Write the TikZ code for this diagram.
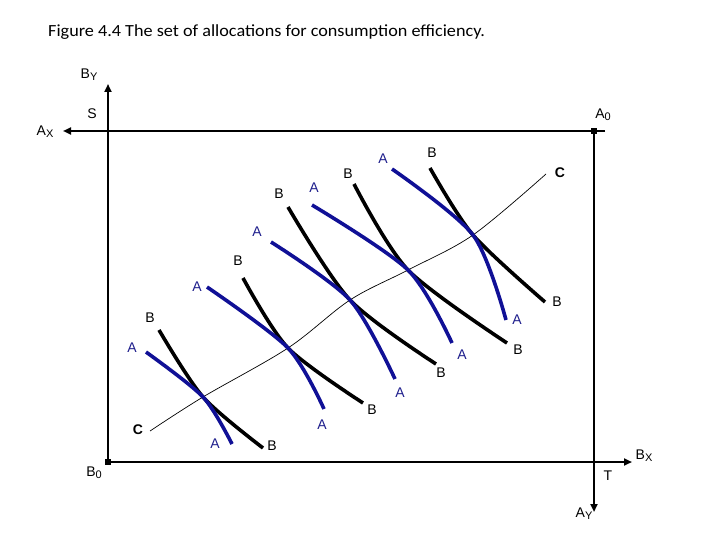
\documentclass[tikz,border=0pt]{standalone}
\usepackage{fontspec}
\setmainfont{Carlito}
\newfontfamily\labfont{Liberation Sans}
\usetikzlibrary{arrows.meta}
\definecolor{navy}{RGB}{16,16,150}
\definecolor{navytext}{RGB}{30,30,140}
\newcommand{\lsub}[1]{\raisebox{-0.3ex}{\fontsize{11}{12}\selectfont #1}}
\tikzset{
  axis/.style={line width=2.6pt},
  axarrow/.style={axis,-{Triangle[length=8pt,width=7pt]}},
  curveA/.style={line width=3.6pt,navy},
  curveB/.style={line width=3.6pt,black},
  curveC/.style={line width=0.7pt,black},
  labA/.style={font=\labfont\fontsize{14}{16}\selectfont,text=navytext,inner sep=0pt},
  labB/.style={font=\labfont\fontsize{14}{16}\selectfont,text=black,inner sep=0pt},
  labC/.style={font=\labfont\bfseries\fontsize{14}{16}\selectfont,inner sep=0pt},
  axlab/.style={font=\labfont\fontsize{14}{16}\selectfont,inner sep=0pt},
  dotsq/.style={fill=black,minimum size=6pt,inner sep=0pt,rectangle}
}
\begin{document}
\begin{tikzpicture}[x=1pt,y=-1pt]
\useasboundingbox (0,0) rectangle (720,540);
\node[anchor=west,inner sep=0pt,xscale=1.07,font=\fontsize{17}{20}\selectfont] (title) at (48,32) {Figure 4.4 The set of allocations for consumption efficiency.};
% origins and axis ends
\coordinate (B0) at (108,462);
\coordinate (A0) at (594,131);
\coordinate (ByEnd) at (108,84);
\coordinate (AxEnd) at (63,131);
\coordinate (BxEnd) at (632,462);
\coordinate (AyEnd) at (594,512);
\coordinate (TopEnd) at (605,131);
\draw[axarrow] (B0) -- (ByEnd);
\draw[axarrow] (B0) -- (BxEnd);
\draw[axarrow] (TopEnd) -- (AxEnd);
\draw[axarrow] (A0) -- (AyEnd);
\node[dotsq] (dA0) at (A0) {};
\node[dotsq] (dB0) at (B0) {};
% axis labels
\node[axlab] (lBy) at (89,75) {B\lsub{Y}};
\node[axlab] (lS) at (92,114) {S};
\node[axlab] (lAx) at (45,132) {A\lsub{X}};
\node[axlab] (lA0) at (603,115) {A\lsub{0}};
\node[axlab] (lB0) at (94,473) {B\lsub{0}};
\node[axlab] (lBx) at (644,456) {B\lsub{X}};
\node[axlab] (lT) at (608,476) {T};
\node[axlab] (lAy) at (584,514) {A\lsub{Y}};
% tangency points
\coordinate (m1) at (203,397);
\coordinate (m2) at (288,348);
\coordinate (m3) at (350,300);
\coordinate (m4) at (408,270);
\coordinate (m5) at (473,235);
% pair 1
\coordinate (a1s) at (146,352); \coordinate (a1e) at (232,444);
\coordinate (b1s) at (159,330); \coordinate (b1e) at (263,448);
% pair 2
\coordinate (a2s) at (207,287); \coordinate (a2e) at (324,409);
\coordinate (b2s) at (243,278); \coordinate (b2e) at (363,403);
% pair 3
\coordinate (a3s) at (271,242); \coordinate (a3e) at (395,379);
\coordinate (b3s) at (288,207); \coordinate (b3e) at (436,364);
% pair 4
\coordinate (a4s) at (312,205); \coordinate (a4e) at (452,343);
\coordinate (b4s) at (354,184); \coordinate (b4e) at (507,343);
% pair 5
\coordinate (a5s) at (392,169); \coordinate (a5e) at (506,320);
\coordinate (b5s) at (430,168); \coordinate (b5e) at (545,302);
% C curve
\coordinate (c1) at (150,431);
\coordinate (c2) at (546,174);
\draw[curveC] plot[smooth,tension=0.55] coordinates {(c1) (m1) (m2) (m3) (m4) (m5) (c2)};
\foreach \i in {1,...,5}{
  \draw[curveB] plot[smooth] coordinates {(b\i s) (m\i) (b\i e)};
  \draw[curveA] plot[smooth] coordinates {(a\i s) (m\i) (a\i e)};
}
% labels A (blue)
\node[labA] (la1s) at (132,348) {A}; \node[labA] (la1e) at (215,444) {A};
\node[labA] (la2s) at (197,287) {A}; \node[labA] (la2e) at (322,425) {A};
\node[labA] (la3s) at (257,232) {A}; \node[labA] (la3e) at (400,393) {A};
\node[labA] (la4s) at (314,188) {A}; \node[labA] (la4e) at (462,355) {A};
\node[labA] (la5s) at (383,159) {A}; \node[labA] (la5e) at (517,320) {A};
% labels B
\node[labB] (lb1s) at (150,318) {B}; \node[labB] (lb1e) at (272,446) {B};
\node[labB] (lb2s) at (238,261) {B}; \node[labB] (lb2e) at (372,410) {B};
\node[labB] (lb3s) at (279,194) {B}; \node[labB] (lb3e) at (441,373) {B};
\node[labB] (lb4s) at (348,174) {B}; \node[labB] (lb4e) at (518,350) {B};
\node[labB] (lb5s) at (432,153) {B}; \node[labB] (lb5e) at (557,302) {B};
% labels C
\node[labC] (lc1) at (138,430) {C};
\node[labC] (lc2) at (560,173) {C};
\end{tikzpicture}
\end{document}
